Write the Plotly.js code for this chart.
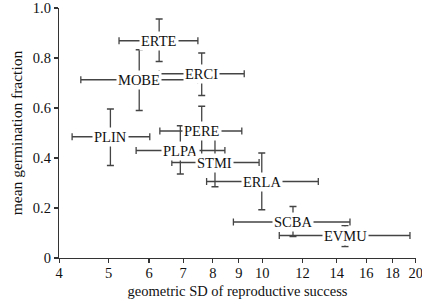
<!DOCTYPE html>
<html>
<head>
<meta charset="utf-8">
<script src="https://cdn.plot.ly/plotly-3.0.1.min.js"></script>
<style>html,body{margin:0;padding:0;background:#fff;}#chart{width:422px;height:299px;}</style>
</head>
<body>
<div id="chart"></div>
<script>
const species = ["ERTE","MOBE","ERCI","PLIN","PERE","PLPA","STMI","ERLA","SCBA","EVMU"];
const gsd     = [6.28, 5.74, 7.61, 5.04, 7.61, 6.91, 8.08, 9.98, 11.49, 14.53];
const gsdLow  = [5.24, 4.41, 6.28, 4.24, 6.30, 5.66, 6.65, 7.78, 8.78, 10.80];
const gsdHigh = [7.48, 7.47, 9.22, 6.02, 9.12, 8.45, 9.86, 12.88, 14.86, 19.48];
const germ     = [0.869, 0.713, 0.737, 0.485, 0.508, 0.430, 0.382, 0.306, 0.144, 0.090];
const germLow  = [0.786, 0.590, 0.650, 0.370, 0.413, 0.336, 0.285, 0.193, 0.086, 0.046];
const germHigh = [0.956, 0.833, 0.820, 0.596, 0.607, 0.529, 0.480, 0.420, 0.206, 0.129];
const xTicks = [4,5,6,7,8,9,10,12,14,16,18,20];
const yTicks = [0,0.2,0.4,0.6,0.8,1.0];
const yTickText = ["0","0.2","0.4","0.6","0.8","1.0"];

const barColor = "#444";
const font = "Liberation Serif, Times New Roman, serif";

const trace = {
  type: "scatter", mode: "markers",
  x: gsd, y: germ,
  marker: {size: 1, opacity: 0},
  error_x: {type: "data", symmetric: false,
    array: gsd.map((v,i)=>gsdHigh[i]-v), arrayminus: gsd.map((v,i)=>v-gsdLow[i]),
    color: barColor, thickness: 1.3, width: 3.5},
  error_y: {type: "data", symmetric: false,
    array: germ.map((v,i)=>germHigh[i]-v), arrayminus: germ.map((v,i)=>v-germLow[i]),
    color: barColor, thickness: 1.3, width: 3.5},
  hoverinfo: "skip", showlegend: false
};

const annotations = species.map((s,i)=>({
  x: Math.log10(gsd[i]), y: germ[i], xref: "x", yref: "y",
  text: s, showarrow: false, bgcolor: "#fff", borderpad: 1,
  font: {family: font, size: 14.5, color: "#111"},
  xanchor: "center", yanchor: "middle"
}));

const layout = {
  width: 422, height: 299,
  margin: {l: 59, r: 6, t: 8, b: 41},
  paper_bgcolor: "#fff", plot_bgcolor: "#fff",
  font: {family: font, size: 14.5, color: "#111"},
  showlegend: false,
  xaxis: {
    type: "log", range: [Math.log10(4) - 0.0004, Math.log10(20) + 0.0004],
    tickvals: xTicks, ticktext: xTicks.map(String),
    ticks: "outside", ticklen: 4, tickcolor: "#333", tickwidth: 1.2,
    ticklabelstandoff: -3, ticklabeloverflow: "allow",
    showline: true, linecolor: "#333", linewidth: 1.2, showgrid: false, zeroline: false,
    tickfont: {family: font, size: 14.5, color: "#111"},
    title: {text: "geometric SD of reproductive success", font: {family: font, size: 14.5, color: "#111"}, standoff: 6}
  },
  yaxis: {
    range: [0, 1], tickvals: yTicks, ticktext: yTickText,
    ticks: "outside", ticklen: 4, tickcolor: "#333", tickwidth: 1.2,
    showline: true, linecolor: "#333", linewidth: 1.2, showgrid: false, zeroline: false,
    tickfont: {family: font, size: 14.5, color: "#111"},
    title: {text: "mean germination fraction", font: {family: font, size: 15.5, color: "#111"}, standoff: 6}
  },
  annotations: annotations
};

Plotly.newPlot("chart", [trace], layout, {displayModeBar: false, staticPlot: true});
</script>
</body>
</html>
